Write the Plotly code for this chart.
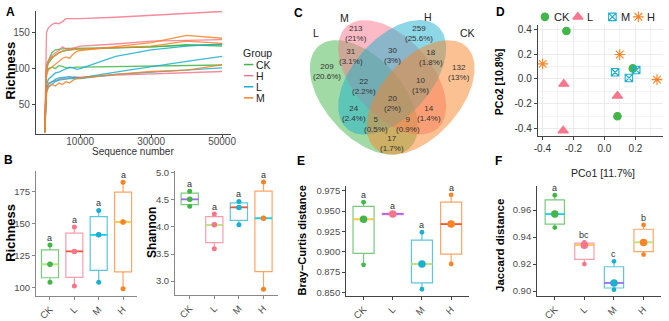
import numpy as np
import plotly.graph_objects as go

W, H = 669, 321
FONT = "Liberation Sans, Arial, Helvetica, sans-serif"
TICK_COLOR = "#4D4D4D"
AX_COLOR = "#444444"

# ---------------- data ----------------
box_groups = ["CK", "L", "M", "H"]
box_colors = {"CK": "#43B649", "L": "#F7768B", "M": "#1CB0CE", "H": "#F98325"}

# A: rarefaction curves (legend order CK, H, L, M)
rare_groups = ["CK", "H", "L", "M"]
rare_colors = {"CK": "#43B649", "H": "#F7768B", "L": "#1CB0CE", "M": "#F98325"}
rare_depth = [0, 500, 1000, 2000, 3000, 4000, 5000, 6000, 7000, 8000, 9000, 10000, 20000, 30000, 40000, 50000]
rare_CK_1 = [12, 105, 111, 122, 126, 127, 127, 128, 128, 128, 128, 128, 129, 130, 133, 131]
rare_CK_2 = [12, 95, 100, 102, 100, 104, 103, 101, 101, 102, 102, 102, 103, 103, 104, 105]
rare_CK_3 = [12, 98, 107, 114, 119, 122, 124, 125, 126, 126, 127, 127, 128, 130, 132, 133]
rare_H_1 = [12, 150, 156, 161, 163, 162, 165, 169, 169, 169, 169, 169, 171, 174, 176, 179]
rare_H_2 = [12, 100, 110, 118, 122, 125, 130, 127, 127, 128, 129, 131, 134, 138, 139, 140]
rare_H_3 = [12, 70, 80, 82, 83, 85, 86, 87, 87, 88, 88, 88, 91, 93, 95, 96]
rare_L_1 = [12, 78, 85, 90, 94, 95, 97, 100, 102, 101, 99, 100, 117, 126, 131, 134]
rare_L_2 = [12, 72, 78, 82, 85, 87, 88, 89, 89, 88, 87, 87, 95, 103, 110, 117]
rare_L_3 = [12, 68, 74, 78, 82, 84, 85, 86, 86, 86, 86, 86, 92, 95, 98, 101]
rare_M_1 = [12, 90, 98, 102, 107, 111, 114, 116, 114, 120, 124, 125, 130, 136, 146, 142]
rare_M_2 = [12, 100, 110, 116, 118, 122, 124, 126, 126, 127, 127, 127, 129, 131, 138, 135]
rare_M_3 = [12, 65, 75, 78, 76, 80, 78, 82, 80, 84, 86, 87, 92, 96, 98, 105]
rare_series = [("CK", rare_CK_1), ("CK", rare_CK_2), ("CK", rare_CK_3),
               ("H", rare_H_1), ("H", rare_H_2), ("H", rare_H_3),
               ("L", rare_L_1), ("L", rare_L_2), ("L", rare_L_3),
               ("M", rare_M_1), ("M", rare_M_2), ("M", rare_M_3)]

# B: alpha diversity
richness = {"CK": [104, 118, 133], "L": [101, 128, 147], "M": [104, 141, 160], "H": [99, 151, 182]}
shannon = {"CK": [4.38, 4.51, 4.66], "L": [3.60, 4.04, 4.24], "M": [4.04, 4.36, 4.47], "H": [2.85, 4.16, 4.83]}
richness_letters = ["a", "a", "a", "a"]
shannon_letters = ["a", "a", "a", "a"]

# C: Venn counts
venn_sets = ["L", "M", "H", "CK"]
venn_regions = ["L", "M", "H", "CK", "L&M", "M&H", "H&CK", "L&M&H", "M&H&CK",
                "L&M&H&CK", "L&H", "M&CK", "L&H&CK", "L&M&CK", "L&CK"]
venn_counts = [209, 213, 259, 132, 31, 30, 18, 22, 10, 20, 24, 14, 5, 9, 17]

# D: PCoA
pcoa_x = {"CK": [-0.245, 0.183, 0.084], "L": [-0.262, 0.084, -0.266],
          "M": [0.069, 0.158, 0.205], "H": [-0.398, 0.099, 0.339]}
pcoa_y = {"CK": [0.385, 0.085, -0.298], "L": [-0.040, -0.135, -0.414],
          "M": [0.054, 0.008, 0.072], "H": [0.121, 0.196, -0.005]}

# E, F: beta distances
bray = {"CK": [0.884, 0.940, 0.961], "L": [0.9455, 0.9465, 0.9475],
        "M": [0.854, 0.885, 0.924], "H": [0.885, 0.934, 0.970]}
jaccard = {"CK": [0.947, 0.957, 0.971], "L": [0.920, 0.934, 0.936],
           "M": [0.901, 0.906, 0.922], "H": [0.927, 0.936, 0.949]}
bray_letters = ["a", "a", "a", "a"]
jaccard_letters = ["a", "bc", "c", "b"]

# ---------------- layout helpers ----------------
def xdom(x0, x1):
    return [x0 / W, x1 / W]

def ydom(y0, y1):
    return [1 - y1 / H, 1 - y0 / H]

def px(x):
    return x / W

def py(y):
    return 1 - y / H

def rgba(hx, a):
    hx = hx.lstrip("#")
    r, g, b = int(hx[0:2], 16), int(hx[2:4], 16), int(hx[4:6], 16)
    return f"rgba({r},{g},{b},{a})"

annotations = []

def text(x, y, s, size=10, bold=False, color="#222222", angle=0, xanchor="center"):
    annotations.append(dict(x=px(x), y=py(y), xref="paper", yref="paper", text=(f"<b>{s}</b>" if bold else s),
                            showarrow=False, font=dict(size=size, color=color, family=FONT),
                            textangle=angle, xanchor=xanchor, yanchor="middle",
                            borderpad=0))

def axis_common(**kw):
    d = dict(showline=True, linecolor=AX_COLOR, linewidth=0.9, ticks="outside", ticklen=3,
             tickcolor=AX_COLOR, tickwidth=0.8, showgrid=False, zeroline=False,
             tickfont=dict(size=9.5, color=TICK_COLOR, family=FONT), fixedrange=True)
    d.update(kw)
    return d

fig = go.Figure()

# ---------------- A ----------------
for g, vals in rare_series:
    fig.add_trace(go.Scatter(x=rare_depth, y=vals, mode="lines", xaxis="x", yaxis="y",
                             line=dict(color=rare_colors[g], width=1.3), opacity=0.85,
                             showlegend=False, hoverinfo="skip"))

# ---------------- D ----------------
pcoa_symbols = {"CK": "circle", "L": "triangle-up", "M": "square-x-open", "H": "asterisk-open"}
pcoa_sizes = {"CK": 7.5, "L": 9, "M": 7.5, "H": 9}
for g in box_groups:
    fig.add_trace(go.Scatter(x=pcoa_x[g], y=pcoa_y[g], mode="markers", xaxis="x2", yaxis="y2",
                             marker=dict(symbol=pcoa_symbols[g], size=pcoa_sizes[g], color=box_colors[g],
                                         line=dict(color=box_colors[g], width=1.1)),
                             showlegend=False, hoverinfo="skip"))

# ---------------- box panels ----------------
def box_panel(data, letters, xa, ya, wunits, wpx, small, big):
    for g in box_groups:
        vals = data[g]
        col = box_colors[g]
        fig.add_trace(go.Box(x=[g] * len(vals), y=vals, xaxis=xa, yaxis=ya, boxpoints=False,
                             quartilemethod="linear", whiskerwidth=0, width=wunits,
                             fillcolor="white", line=dict(color=rgba(col, 0.72), width=1.2),
                             showlegend=False, hoverinfo="skip"))
        med = float(np.median(vals))
        fig.add_trace(go.Scatter(x=[g], y=[med], mode="markers", xaxis=xa, yaxis=ya,
                                 marker=dict(symbol="line-ew-open", size=wpx / 1.4,
                                             line=dict(color=col, width=1.8)),
                                 showlegend=False, hoverinfo="skip"))
        fig.add_trace(go.Scatter(x=[g] * len(vals), y=vals, mode="markers", xaxis=xa, yaxis=ya,
                                 marker=dict(size=small, color=col), showlegend=False, hoverinfo="skip"))
        fig.add_trace(go.Scatter(x=[g], y=[med], mode="markers", xaxis=xa, yaxis=ya,
                                 marker=dict(size=big, color=col), showlegend=False, hoverinfo="skip"))
    for g, lab in zip(box_groups, letters):
        annotations.append(dict(x=g, y=max(data[g]), xref=xa, yref=ya, text=lab, showarrow=False,
                                yshift=7, yanchor="middle", font=dict(size=9, color="#333333", family=FONT)))

box_panel(richness, richness_letters, "x3", "y3", 0.7, 17, 5, 5.5)
box_panel(shannon, shannon_letters, "x4", "y4", 0.7, 17.4, 5, 5.5)
box_panel(bray, bray_letters, "x5", "y5", 0.72, 21.3, 4.8, 7.5)
box_panel(jaccard, jaccard_letters, "x6", "y6", 0.65, 19.5, 4.8, 7.5)

# ---------------- C: Venn (canvas in pixel coordinates) ----------------
venn_colors = {"L": "#43B649", "M": "#F7768B", "H": "#1CB0CE", "CK": "#F98325"}
venn_geom = {"L": (0.35, 0.47, 135), "M": (0.50, 0.57, 135), "H": (0.50, 0.57, 45), "CK": (0.65, 0.47, 45)}
VA, VB = 0.35, 0.20
VCX, VSX, VBY, VSY = 393.5, 192.0, 156.0, 208.0
t = np.linspace(0, 2 * np.pi, 181)
for s in venn_sets:
    cx, cy, rot = venn_geom[s]
    r = np.radians(rot)
    ex = cx + VA * np.cos(t) * np.cos(r) - VB * np.sin(t) * np.sin(r)
    ey = cy + VA * np.cos(t) * np.sin(r) + VB * np.sin(t) * np.cos(r)
    fig.add_trace(go.Scatter(x=VCX + (ex - 0.5) * VSX, y=VBY - (ey - 0.185) * VSY, mode="lines",
                             fill="toself", fillcolor=rgba(venn_colors[s], 0.5), line=dict(width=0),
                             xaxis="x7", yaxis="y7", showlegend=False, hoverinfo="skip"))

venn_label_pos = {"L": (327, 70), "M": (357, 30.5), "H": (421, 30.5), "CK": (461.7, 70.5),
                  "L&M": (351.7, 54.5), "M&H": (393.3, 53.5), "H&CK": (433.3, 55),
                  "L&M&H": (365, 85), "M&H&CK": (421.7, 84.5), "L&M&H&CK": (393.3, 103.5),
                  "L&H": (355, 113), "M&CK": (430.7, 113), "L&H&CK": (377.3, 124.3),
                  "L&M&CK": (410, 124.3), "L&CK": (393.3, 144)}
total = sum(venn_counts)
for reg, cnt in zip(venn_regions, venn_counts):
    pct = round(100.0 * cnt / total, 1)
    pct_s = (f"{pct:.1f}".rstrip("0").rstrip(".")) + "%"
    x, y = venn_label_pos[reg]
    text(x, y, f"{cnt}<br>({pct_s})", size=8, color="#333333")

venn_name_pos = {"L": (316, 30), "M": (345.5, 14.5), "H": (430, 13.5), "CK": (470, 30)}
for s in venn_sets:
    text(*venn_name_pos[s], s, size=10.5, color="#222222")

# ---------------- legend A (manual) ----------------
text(241.5, 51, "Group", size=10.5, xanchor="left")
for i, g in enumerate(rare_groups):
    yy = 62.7 + 11.5 * i
    fig.add_trace(go.Scatter(x=[243.3, 252.7], y=[yy, yy], mode="lines", xaxis="x7", yaxis="y7",
                             line=dict(color=rare_colors[g], width=1.5), showlegend=False, hoverinfo="skip"))
    text(254.5, yy, g, size=10.5, xanchor="left")

# ---------------- legend D (manual) ----------------
legD_x = {"CK": 548.3, "L": 581.7, "M": 616.7, "H": 643.0}
for g in box_groups:
    fig.add_trace(go.Scatter(x=[legD_x[g]], y=[13.3], mode="markers", xaxis="x7", yaxis="y7",
                             marker=dict(symbol=pcoa_symbols[g], size=pcoa_sizes[g], color=box_colors[g],
                                         line=dict(color=box_colors[g], width=1.1)),
                             showlegend=False, hoverinfo="skip"))
    text(legD_x[g] + 8, 13.3, g, size=11, xanchor="left")

# ---------------- titles / tags ----------------
text(7, 8, "A", size=12, bold=True, color="#000")
text(5, 162, "B", size=12, bold=True, color="#000")
text(298.5, 9, "C", size=12, bold=True, color="#000")
text(503, 8.5, "D", size=12, bold=True, color="#000")
text(301.5, 163, "E", size=12, bold=True, color="#000")
text(501.5, 162.5, "F", size=12, bold=True, color="#000")

text(7, 69, "Richness", size=13, bold=True, color="#000", angle=-90)
text(131, 153, "Sequence number", size=10, color="#333333")
text(7, 237, "Richness", size=13, bold=True, color="#000", angle=-90)
text(150, 236, "Shannon", size=12, bold=True, color="#000", angle=-90)
text(302, 245, "Bray\u2212Curtis distance", size=11, bold=True, color="#000", angle=-90)
text(503.3, 250, "Jaccard distance", size=11.5, bold=True, color="#000", angle=-90)
text(501.7, 80, "PCo2 [10.8%]", size=10.5, bold=True, color="#000", angle=-90)
text(606.7, 175, "PCo1 [11.7%]", size=10.5, color="#222222")

# ---------------- axes ----------------
d_xticks = [-0.4, -0.2, 0.0, 0.2]
d_yticks = [-0.4, -0.2, 0.0, 0.2, 0.4]
def fmt1(v):
    return f"{v:.1f}"

layout_axes = dict(
    xaxis=axis_common(domain=xdom(32.3, 230), range=[-2500, 52500], tickvals=[10000, 30000, 50000],
                      tickformat="d", anchor="y", ticklabelstandoff=-5,
                      tickfont=dict(size=10, color=TICK_COLOR, family=FONT)),
    yaxis=axis_common(domain=ydom(7, 135), range=[9, 180], tickvals=[50, 100, 150], anchor="x",
                      tickfont=dict(size=10, color=TICK_COLOR, family=FONT)),
    xaxis2=axis_common(domain=xdom(541, 668), range=[-0.43, 0.378], tickvals=d_xticks,
                       ticktext=[fmt1(v) for v in d_xticks], anchor="y2", showgrid=True, gridcolor="#EBEBEB",
                       gridwidth=0.8, minor=dict(tickvals=[-0.3, -0.1, 0.1, 0.3], showgrid=True,
                                                 gridcolor="#F4F4F4", ticks=""),
                       tickfont=dict(size=10, color="#333333", family=FONT)),
    yaxis2=axis_common(domain=ydom(21.7, 136.7), range=[-0.457, 0.433], tickvals=d_yticks,
                       ticktext=[fmt1(v) for v in d_yticks], anchor="x2", showgrid=True, gridcolor="#EBEBEB",
                       gridwidth=0.8, minor=dict(tickvals=[-0.3, -0.1, 0.1, 0.3], showgrid=True,
                                                 gridcolor="#F4F4F4", ticks=""),
                       tickfont=dict(size=10, color="#333333", family=FONT)),
    xaxis3=axis_common(domain=xdom(32.3, 135), type="category", categoryorder="array",
                       categoryarray=box_groups, range=[-0.58, 3.58], tickangle=-45, anchor="y3",
                       linecolor="#888888", tickcolor="#888888"),
    yaxis3=axis_common(domain=ydom(173.3, 302.7), range=[93, 190.5], tickvals=[100, 125, 150, 175],
                       anchor="x3", linecolor="#888888", tickcolor="#888888"),
    xaxis4=axis_common(domain=xdom(173.3, 278), type="category", categoryorder="array",
                       categoryarray=box_groups, range=[-0.6, 3.6], tickangle=-45, anchor="y4",
                       linecolor="#888888", tickcolor="#888888"),
    yaxis4=axis_common(domain=ydom(172.7, 301.7), range=[2.738, 5.036], tickvals=[3.0, 3.5, 4.0, 4.5, 5.0],
                       tickformat=".1f", anchor="x4", linecolor="#888888", tickcolor="#888888"),
    xaxis5=axis_common(domain=xdom(346.7, 471), type="category", categoryorder="array",
                       categoryarray=box_groups, range=[-0.6, 3.6], tickangle=-45, anchor="y5"),
    yaxis5=axis_common(domain=ydom(188.3, 302.7), range=[0.8453, 0.981],
                       tickvals=[0.850, 0.875, 0.900, 0.925, 0.950, 0.975], tickformat=".3f", anchor="x5"),
    xaxis6=axis_common(domain=xdom(540.3, 666.3), type="category", categoryorder="array",
                       categoryarray=box_groups, range=[-0.6, 3.6], tickangle=-45, anchor="y6"),
    yaxis6=axis_common(domain=ydom(188.3, 302.7), range=[0.8961, 0.9779],
                       tickvals=[0.90, 0.92, 0.94, 0.96], tickformat=".2f", anchor="x6"),
    xaxis7=dict(domain=[0, 1], range=[0, W], visible=False, fixedrange=True, anchor="y7"),
    yaxis7=dict(domain=[0, 1], range=[H, 0], visible=False, fixedrange=True, anchor="x7"),
)

fig.update_layout(width=W, height=H, margin=dict(l=0, r=0, t=0, b=0), paper_bgcolor="white",
                  plot_bgcolor="rgba(0,0,0,0)", showlegend=False, boxmode="overlay",
                  font=dict(family=FONT), annotations=annotations, **layout_axes)

fig.write_html("out.html", config={"displayModeBar": False})
